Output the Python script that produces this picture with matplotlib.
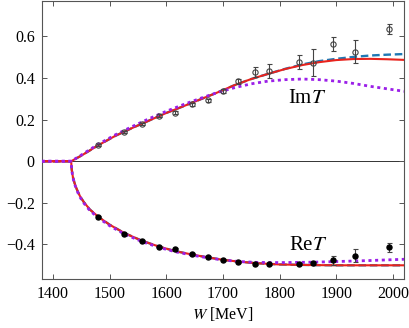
import matplotlib
matplotlib.use("Agg")
import matplotlib.pyplot as plt
import numpy as np

plt.rcParams['font.family'] = ['Liberation Serif', 'DejaVu Serif']
plt.rcParams['mathtext.fontset'] = 'stix'

# experimental points
w_data = [1479, 1526, 1557, 1587, 1616, 1645, 1673, 1701, 1727, 1756, 1782, 1834, 1860, 1895, 1934, 1994]
im_data = [0.077, 0.141, 0.178, 0.218, 0.234, 0.274, 0.293, 0.336, 0.385, 0.429, 0.435, 0.477, 0.474, 0.563, 0.527, 0.635]
im_err = [0.005, 0.006, 0.006, 0.007, 0.008, 0.008, 0.008, 0.009, 0.012, 0.024, 0.034, 0.035, 0.065, 0.035, 0.055, 0.026]
re_data = [-0.267, -0.349, -0.383, -0.414, -0.424, -0.446, -0.458, -0.474, -0.486, -0.493, -0.494, -0.493, -0.490, -0.475, -0.453, -0.414]
re_err = [0.004, 0.004, 0.004, 0.004, 0.005, 0.005, 0.005, 0.005, 0.005, 0.006, 0.006, 0.006, 0.007, 0.022, 0.030, 0.020]

# model curves, Im T
w_im = [1380, 1432, 1450, 1480, 1510, 1540, 1570, 1600, 1630, 1660, 1690, 1720, 1750,
        1780, 1810, 1840, 1870, 1900, 1930, 1960, 1990, 2020]
im_red = [0, 0, 0.027, 0.077, 0.122, 0.16, 0.196, 0.232, 0.264, 0.297, 0.33, 0.365, 0.395,
          0.42, 0.443, 0.462, 0.476, 0.486, 0.491, 0.492, 0.49, 0.487]
im_blue = [0, 0, 0.027, 0.077, 0.122, 0.16, 0.196, 0.232, 0.264, 0.297, 0.33, 0.365, 0.395,
           0.42, 0.444, 0.465, 0.481, 0.492, 0.501, 0.508, 0.512, 0.515]
im_purple = [0, 0, 0.03, 0.082, 0.127, 0.167, 0.205, 0.24, 0.272, 0.302, 0.33, 0.353, 0.372,
             0.385, 0.392, 0.395, 0.392, 0.385, 0.374, 0.36, 0.348, 0.336]

# model curves, Re T
w_re = [1380, 1432, 1433, 1435, 1438, 1442, 1447, 1454, 1465, 1480, 1500, 1526, 1557, 1587,
        1616, 1645, 1673, 1701, 1730, 1760, 1800, 1860, 1900, 1960, 2020]
re_red = [0, 0, -0.04, -0.075, -0.105, -0.135, -0.165, -0.195, -0.232, -0.267, -0.305, -0.345,
          -0.382, -0.41, -0.432, -0.448, -0.462, -0.474, -0.483, -0.49, -0.496, -0.499, -0.5, -0.5, -0.5]
re_purple = [0, 0, -0.042, -0.078, -0.109, -0.139, -0.17, -0.2, -0.237, -0.272, -0.31, -0.35,
             -0.386, -0.414, -0.435, -0.451, -0.464, -0.475, -0.482, -0.486, -0.487, -0.485, -0.482, -0.477, -0.471]

yticks = [-0.4, -0.2, 0, 0.2, 0.4, 0.6]
ytick_labels = ['\u22120.4', '\u22120.2', '0', '0.2', '0.4', '0.6']
xticks = [1400, 1500, 1600, 1700, 1800, 1900, 2000]

fig = plt.figure(figsize=(4.09, 3.28), dpi=100)
ax = fig.add_axes([0.102, 0.148, 0.886, 0.849])

ax.axhline(0, color='#333333', lw=0.7, zorder=1)

ax.plot(w_im, im_blue, color='#1f78b4', lw=1.7, linestyle=(0, (3.2, 1.6)), zorder=2)
ax.plot(w_re, re_red, color='#1f78b4', lw=1.7, linestyle=(0, (3.2, 1.6)), zorder=2)
ax.plot(w_im, im_red, color='#e8231d', lw=1.5, zorder=3)
ax.plot(w_re, re_red, color='#e8231d', lw=1.5, zorder=3)
ax.plot(w_im, im_purple, color='#9b1fe8', lw=2.0, linestyle=(0, (1.1, 1.3)), zorder=4)
ax.plot(w_re, re_purple, color='#9b1fe8', lw=2.0, linestyle=(0, (1.1, 1.3)), zorder=4)

ax.errorbar(w_data, im_data, yerr=im_err, fmt='o', ms=3.8, mfc='none', mec='#444444',
            mew=0.8, ecolor='#444444', elinewidth=0.8, capsize=1.8, capthick=0.8, zorder=5)
ax.errorbar(w_data, re_data, yerr=re_err, fmt='o', ms=3.6, mfc='black', mec='black',
            ecolor='#444444', elinewidth=0.8, capsize=1.8, capthick=0.8, zorder=5)

ax.text(1848, 0.303, r'Im$T$', fontsize=15, ha='center', va='center')
ax.text(1851, -0.406, r'Re$T$', fontsize=15, ha='center', va='center')

ax.set_xlim(1380, 2020)
ax.set_ylim(-0.568, 0.77)
ax.set_xticks(xticks)
ax.set_yticks(yticks)
ax.set_yticklabels(ytick_labels)
ax.set_xlabel(r'$W$ [MeV]', fontsize=11.5, labelpad=2)
ax.tick_params(direction='in', length=3.5, width=0.7, color='#555555', labelsize=11.5,
               top=True, right=True, pad=5)
for s in ax.spines.values():
    s.set_color('#555555')
    s.set_linewidth(0.8)

fig.savefig('out.png', dpi=100)
